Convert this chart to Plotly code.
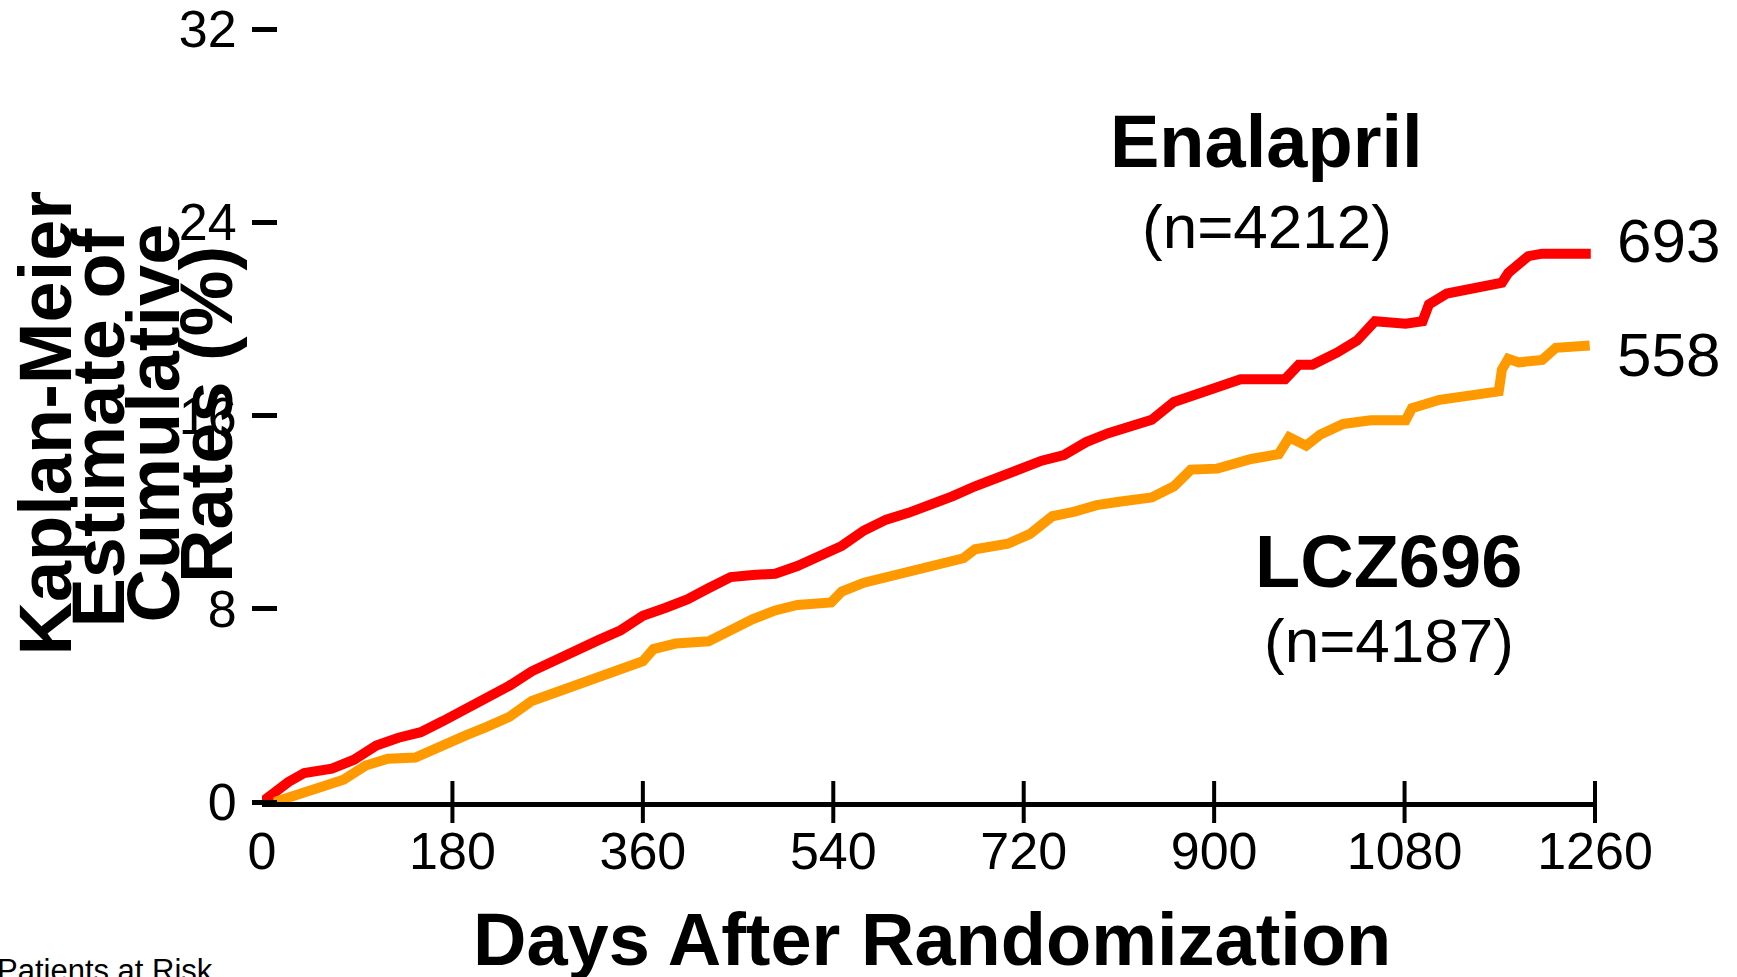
import plotly.graph_objects as go

# ---------------- data ----------------
DAY_TICKS = [0, 180, 360, 540, 720, 900, 1080, 1260]
Y_TICKS = [0, 8, 16, 24, 32]

ENALAPRIL_DAYS = [0, 7, 25, 40, 66, 87, 108, 129, 150, 171,
                  192, 213, 234, 255, 276, 297, 318, 339, 360, 381,
                  402, 422, 443, 464, 485, 506, 527, 548, 569, 590,
                  611, 632, 653, 674, 695, 716, 737, 758, 779, 800,
                  820, 841, 862, 883, 906, 925, 951, 967, 980, 993,
                  1016, 1035, 1052, 1081, 1097, 1103, 1120, 1146, 1172, 1178,
                  1188, 1197, 1210, 1256]
ENALAPRIL_RATE = [0, 0.25, 0.83, 1.2, 1.38, 1.75, 2.34, 2.66, 2.89, 3.35,
                  3.81, 4.27, 4.82, 5.41, 5.87, 6.33, 6.7, 7.11, 7.71, 8.03,
                  8.39, 8.85, 9.31, 9.4, 9.45, 9.77, 10.23, 10.6, 11.24, 11.69,
                  11.97, 12.29, 12.66, 13.07, 13.44, 13.8, 14.13, 14.36, 14.9, 15.27,
                  15.59, 15.82, 16.56, 16.88, 17.15, 17.5, 17.5, 17.5, 18.1, 18.1,
                  18.6, 19.1, 19.9, 19.8, 19.9, 20.6, 21.05, 21.3, 21.5, 21.9,
                  22.3, 22.6, 22.7, 22.7]

LCZ696_DAYS = [12, 22, 35, 56, 77, 98, 119, 145, 166, 192,
               213, 234, 255, 276, 297, 318, 339, 360, 370, 391,
               422, 438, 464, 485, 506, 538, 548, 569, 590, 611,
               632, 663, 674, 705, 726, 747, 768, 789, 810, 841,
               862, 878, 903, 935, 961, 971, 987, 1000, 1022, 1048,
               1081, 1087, 1113, 1146, 1169, 1172, 1178, 1188, 1210, 1223,
               1255]
LCZ696_RATE = [0, 0.14, 0.32, 0.6, 0.92, 1.51, 1.79, 1.84, 2.2, 2.75,
               3.12, 3.53, 4.18, 4.5, 4.86, 5.18, 5.5, 5.83, 6.33, 6.56,
               6.65, 7.02, 7.57, 7.93, 8.16, 8.26, 8.71, 9.08, 9.31, 9.49,
               9.68, 10.09, 10.46, 10.69, 11.1, 11.83, 12.02, 12.29, 12.43, 12.61,
               13.07, 13.76, 13.8, 14.2, 14.4, 15.1, 14.75, 15.2, 15.65, 15.8,
               15.8, 16.3, 16.65, 16.8, 17.0, 17.9, 18.35, 18.2, 18.3, 18.8,
               18.9]

ENALAPRIL_N = 4212
LCZ696_N = 4187
ENALAPRIL_EVENTS = 693
LCZ696_EVENTS = 558

Y_TITLE_LINES = ["Kaplan-Meier", "Estimate of", "Cumulative", "Rates (%)"]

# ---------------- styling ----------------
W, H = 1737, 977
RED = "#ff0000"
ORANGE = "#ff9900"
FONT = "Liberation Sans, Arial, sans-serif"

def px_x(p):
    return p / W

def px_y(p):
    return 1 - p / H

XDOM = [px_x(262), px_x(1595)]
YDOM = [px_y(802), px_y(29)]

fig = go.Figure()
# crossing tick marks on the x axis (drawn at the tick values, on y = 0)
fig.add_trace(go.Scatter(x=DAY_TICKS[1:], y=[Y_TICKS[0]] * (len(DAY_TICKS) - 1),
                         mode="markers", cliponaxis=False,
                         marker=dict(symbol="line-ns", size=30,
                                     line=dict(color="black", width=4)),
                         hoverinfo="skip", showlegend=False))
fig.add_trace(go.Scatter(x=ENALAPRIL_DAYS, y=ENALAPRIL_RATE, mode="lines",
                         line=dict(color=RED, width=10), cliponaxis=False,
                         hoverinfo="skip", showlegend=False))
fig.add_trace(go.Scatter(x=LCZ696_DAYS, y=LCZ696_RATE, mode="lines",
                         line=dict(color=ORANGE, width=10), cliponaxis=False,
                         hoverinfo="skip", showlegend=False))

fig.update_layout(
    width=W, height=H,
    margin=dict(l=0, r=0, t=0, b=0, pad=0, autoexpand=False),
    paper_bgcolor="white", plot_bgcolor="white",
    showlegend=False,
    font=dict(family=FONT, color="black"),
    xaxis=dict(domain=XDOM, range=[DAY_TICKS[0], DAY_TICKS[-1]], anchor="y",
               automargin=False, showgrid=False, zeroline=False,
               showline=True, linewidth=5, linecolor="black",
               ticks="", tickvals=DAY_TICKS, ticktext=[str(v) for v in DAY_TICKS],
               tickfont=dict(size=52, color="black", family=FONT),
               ticklabelstandoff=0, ticklabeloverflow="allow"),
    yaxis=dict(domain=YDOM, range=[Y_TICKS[0], Y_TICKS[-1]], anchor="free",
               position=px_x(277), automargin=False,
               showline=False, showgrid=False, zeroline=False,
               tickvals=Y_TICKS, ticktext=[str(v) for v in Y_TICKS],
               ticks="outside", ticklen=25, tickwidth=5, tickcolor="black",
               tickfont=dict(size=52, color="black", family=FONT),
               ticklabelstandoff=5, ticklabeloverflow="allow"),
)

annotations = [
    dict(text="<b>Enalapril</b>", x=px_x(1266), y=px_y(142), size=74),
    dict(text=f"(n={ENALAPRIL_N})", x=px_x(1267), y=px_y(227), size=62),
    dict(text="<b>LCZ696</b>", x=px_x(1388), y=px_y(561), size=74),
    dict(text=f"(n={LCZ696_N})", x=px_x(1389), y=px_y(640), size=62),
    dict(text=str(ENALAPRIL_EVENTS), x=px_x(1615), y=px_y(240), size=62, xanchor="left"),
    dict(text=str(LCZ696_EVENTS), x=px_x(1615), y=px_y(354), size=62, xanchor="left"),
    dict(text="<b>Days After Randomization</b>", x=px_x(932), y=px_y(939), size=74),
    dict(text="Patients at Risk", x=px_x(-5), y=px_y(970), size=31, xanchor="left"),
]
title_pos = [(44.5, 423), (97.5, 428), (152.5, 423), (207, 415)]
for line, (tx, ty) in zip(Y_TITLE_LINES, title_pos):
    annotations.append(dict(text=f"<b>{line}</b>", x=px_x(tx), y=px_y(ty), size=74,
                            textangle=-90))

for a in annotations:
    fig.add_annotation(
        text=a["text"], x=a["x"], y=a["y"], xref="paper", yref="paper",
        xanchor=a.get("xanchor", "center"), yanchor="middle",
        textangle=a.get("textangle", 0), showarrow=False,
        font=dict(family=FONT, size=a["size"], color="black"),
    )

fig.write_html("out.html")
